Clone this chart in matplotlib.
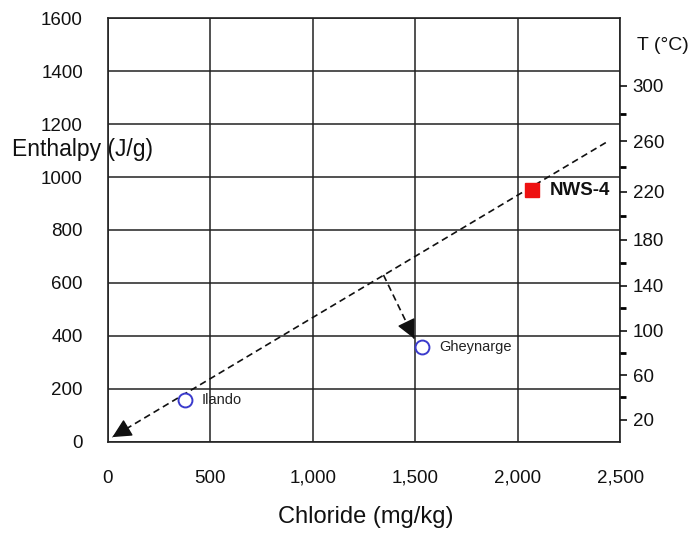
import matplotlib.pyplot as plt
import numpy as np

plt.rcParams['font.family'] = ['Liberation Sans', 'DejaVu Sans']

# well samples: chloride (mg/kg) vs enthalpy (J/g)
names = ['Ilando', 'Gheynarge']
chloride = [378, 1535]
enthalpy = [158, 357]
nws_chloride = 2070
nws_enthalpy = 950

# mixing / dilution line and boiling arrow
mix_start = (2430, 1130)
mix_end = (22, 18)
boil_start = (1345, 630)
boil_end = (1495, 390)

# right axis: temperature of saturated water and its enthalpy
temp_major = [20, 60, 100, 140, 180, 220, 260, 300]
h_major = [83.9, 251.1, 419.0, 589.1, 763.1, 943.6, 1134.8, 1344.8]
temp_minor = [40, 80, 120, 160, 200, 240, 280]
h_minor = [167.5, 334.9, 503.8, 675.5, 852.3, 1037.5, 1236.7]

fig = plt.figure(figsize=(6.96, 5.33), dpi=100)
ax = fig.add_axes([0.155, 0.171, 0.736, 0.795])

ax.set_xlim(0, 2500)
ax.set_ylim(0, 1600)
ax.set_xticks(np.arange(0, 2501, 500))
ax.set_xticklabels(['0', '500', '1,000', '1,500', '2,000', '2,500'])
ax.set_yticks(np.arange(0, 1601, 200))
ax.grid(True, color='#222222', linewidth=1.1)
ax.set_axisbelow(True)
ax.tick_params(axis='both', length=0, labelsize=13.5, colors='#111111')
ax.tick_params(axis='x', pad=20)
ax.tick_params(axis='y', pad=18)
for s in ax.spines.values():
    s.set_linewidth(1.2)
    s.set_color('#222222')


def dashed_arrow(start, end, frac):
    # dashed shaft plus a solid filled head at the end
    ax.plot([start[0], end[0]], [start[1], end[1]], color='#111111',
            lw=1.2, linestyle=(0, (4, 2.5)), zorder=3)
    back = (end[0] + frac * (start[0] - end[0]), end[1] + frac * (start[1] - end[1]))
    ax.annotate('', xy=end, xytext=back,
                arrowprops=dict(arrowstyle='-|>,head_length=0.9,head_width=0.45',
                                color='#111111', lw=1.0, mutation_scale=13,
                                shrinkA=0, shrinkB=0), zorder=4)


dashed_arrow(mix_start, mix_end, 0.02)
dashed_arrow(boil_start, boil_end, 0.1)

ax.plot(chloride, enthalpy, 'o', ms=10, mfc='white', mec='#3a3acc', mew=1.4, zorder=5)
for n, cx, cy in zip(names, chloride, enthalpy):
    ax.text(cx + 80, cy, n, fontsize=10.5, va='center', color='#222222')
ax.plot([nws_chloride], [nws_enthalpy], 's', ms=10, color='#ee1111', zorder=5)
ax.text(nws_chloride + 85, nws_enthalpy, 'NWS-4', fontsize=13.5, fontweight='bold',
        va='center', color='#111111')

# right temperature axis
ax2 = ax.twinx()
ax2.set_ylim(0, 1600)
ax2.set_yticks(h_major)
ax2.set_yticklabels([str(t) for t in temp_major])
ax2.set_yticks(h_minor, minor=True)
ax2.tick_params(axis='y', which='major', length=5, width=1.2, labelsize=13.5, pad=4, colors='#111111')
ax2.tick_params(axis='y', which='minor', length=4, width=2)
for s in ax2.spines.values():
    s.set_visible(False)

fig.text(0.017, 0.719, 'Enthalpy (J/g)', fontsize=16.5, va='center', ha='left', color='#111111')
fig.text(0.915, 0.915, 'T (°C)', fontsize=14, va='center', ha='left', color='#111111')
fig.text(0.526, 0.03, 'Chloride (mg/kg)', fontsize=17, va='center', ha='center', color='#111111')

fig.savefig('out.png', dpi=100)
